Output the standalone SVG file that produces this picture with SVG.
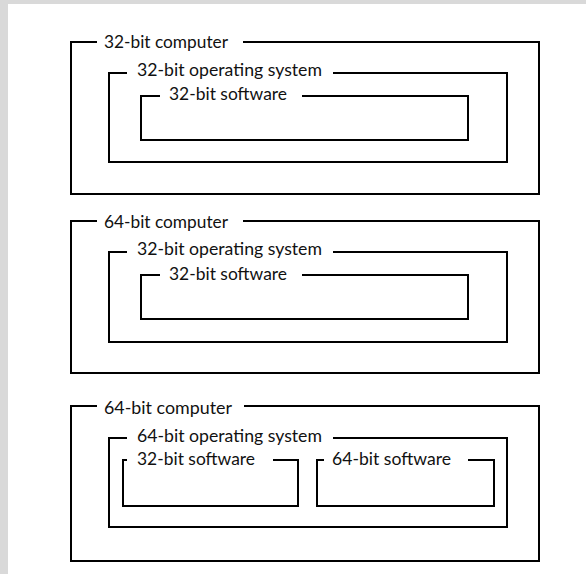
<svg xmlns="http://www.w3.org/2000/svg" width="586" height="574" viewBox="0 0 586 574">
<style>
.b{fill:none;stroke:#000;stroke-width:2;stroke-linejoin:miter}
.t{font-family:Lato,"Open Sans","Liberation Sans",sans-serif;font-size:17px;fill:#111}
</style>
<rect x="0" y="0" width="586" height="574" fill="#d9d9d9"/>
<rect x="8" y="4" width="578" height="570" fill="#fff"/>
<g id="g1-computer">
<path class="b" d="M97,42 H71 V194 H539 V42 H243"/>
<text class="t" x="104" y="48" textLength="124" lengthAdjust="spacingAndGlyphs">32-bit computer</text>
</g>
<g id="g1-os">
<path class="b" d="M127,73 H109 V162 H507 V73 H333"/>
<text class="t" x="137" y="76" textLength="185" lengthAdjust="spacingAndGlyphs">32-bit operating system</text>
</g>
<g id="g1-software">
<path class="b" d="M160,96 H141 V140 H468 V96 H302"/>
<text class="t" x="169" y="100" textLength="118" lengthAdjust="spacingAndGlyphs">32-bit software</text>
</g>
<g id="g2-computer">
<path class="b" d="M97,221 H71 V373 H539 V221 H243"/>
<text class="t" x="104" y="228" textLength="124" lengthAdjust="spacingAndGlyphs">64-bit computer</text>
</g>
<g id="g2-os">
<path class="b" d="M127,252 H109 V342 H507 V252 H333"/>
<text class="t" x="137" y="255" textLength="185" lengthAdjust="spacingAndGlyphs">32-bit operating system</text>
</g>
<g id="g2-software">
<path class="b" d="M160,275 H141 V319 H468 V275 H302"/>
<text class="t" x="169" y="280" textLength="118" lengthAdjust="spacingAndGlyphs">32-bit software</text>
</g>
<g id="g3-computer">
<path class="b" d="M97,406 H71 V561 H539 V406 H244"/>
<text class="t" x="104" y="414" textLength="128" lengthAdjust="spacingAndGlyphs">64-bit computer</text>
</g>
<g id="g3-os">
<path class="b" d="M127,438 H109 V527 H507 V438 H333"/>
<text class="t" x="137" y="442" textLength="185" lengthAdjust="spacingAndGlyphs">64-bit operating system</text>
</g>
<g id="g3-software32">
<path class="b" d="M127,460 H123 V506 H298 V460 H273"/>
<text class="t" x="137" y="465" textLength="118" lengthAdjust="spacingAndGlyphs">32-bit software</text>
</g>
<g id="g3-software64">
<path class="b" d="M324,460 H317 V506 H494 V460 H468"/>
<text class="t" x="332" y="465" textLength="119" lengthAdjust="spacingAndGlyphs">64-bit software</text>
</g>
<g id="connectors"></g>
</svg>
